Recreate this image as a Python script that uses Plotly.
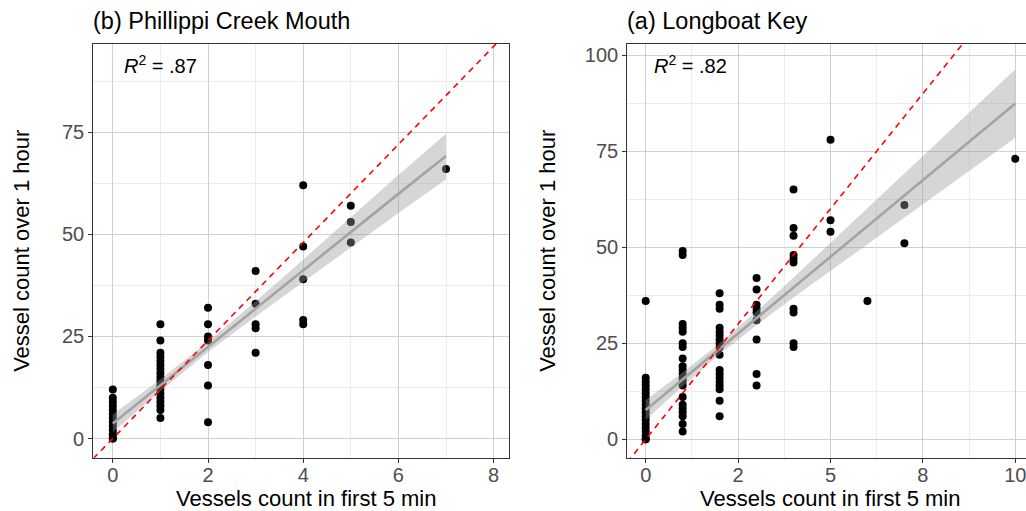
import numpy as np
import plotly.graph_objects as go

# ---- data ----
# (b) Phillippi Creek Mouth: hourly counts grouped by 5-min count
pc_x0 = [0, 0, 1, 1, 2, 3, 4, 5, 6, 7, 8, 9, 10, 12]
pc_x1 = [5, 7, 8, 9, 10, 11, 12, 13, 14, 15, 16, 17, 18, 19, 20, 21, 24, 28]
pc_x2 = [4, 13, 18, 24, 25, 28, 32]
pc_x3 = [21, 27, 28, 33, 41]
pc_x4 = [28, 29, 39, 47, 62]
pc_x5 = [48, 53, 57]
pc_x7 = [66]
pc_groups = {0: pc_x0, 1: pc_x1, 2: pc_x2, 3: pc_x3, 4: pc_x4, 5: pc_x5, 7: pc_x7}

# linear fit and 95% band
pc_fit_x = [0, 1, 2, 3, 4, 5, 6, 7]
pc_fit_y = [3.7, 13.1, 22.4, 31.8, 41.1, 50.5, 59.9, 69.2]
pc_fit_lo = [1.6, 11.6, 21.2, 29.9, 38.4, 46.8, 55.2, 63.4]
pc_fit_hi = [5.9, 14.5, 23.7, 33.6, 43.8, 54.2, 64.5, 74.6]

# (a) Longboat Key
lk_x0 = [0, 0, 1, 2, 3, 4, 5, 6, 7, 8, 9, 10, 11, 12, 13, 14, 15, 16, 36]
lk_x1 = [2, 4, 6, 7, 8, 9, 11, 14, 15, 16, 17, 18, 19, 21, 24, 25, 28, 29, 30, 48, 49]
lk_x2 = [6, 10, 13, 14, 15, 16, 17, 18, 22, 24, 25, 26, 27, 28, 29, 34, 35, 38]
lk_x3 = [14, 17, 26, 31, 33, 34, 35, 39, 42]
lk_x4 = [24, 25, 33, 34, 46, 47, 48, 53, 55, 65]
lk_x5 = [54, 57, 78]
lk_x6 = [36]
lk_x7 = [51, 61]
lk_x10 = [73]
lk_groups = {0: lk_x0, 1: lk_x1, 2: lk_x2, 3: lk_x3, 4: lk_x4, 5: lk_x5,
             6: lk_x6, 7: lk_x7, 10: lk_x10}

lk_fit_x = [0, 1, 2, 3, 4, 5, 6, 7, 8, 9, 10]
lk_fit_y = [7.6, 15.6, 23.6, 31.5, 39.5, 47.5, 55.5, 63.5, 71.4, 79.4, 87.4]
lk_fit_lo = [5.0, 13.8, 22.2, 29.7, 36.9, 43.9, 50.9, 57.8, 64.7, 71.6, 78.5]
lk_fit_hi = [10.2, 17.4, 25.0, 33.3, 42.1, 51.1, 60.1, 69.2, 78.1, 87.2, 96.3]

titles = ["(b) Phillippi Creek Mouth", "(a) Longboat Key"]
r2_labels = [".87", ".82"]
ref_slope = 12  # 1 vessel per 5 min == 12 per hour
x_title = "Vessels count in first 5 min"
y_title = "Vessel count over 1 hour"

pc_xticks = [0, 2, 4, 6, 8]
pc_xtext = ["0", "2", "4", "6", "8"]
lk_xticks = [0, 2.5, 5, 7.5, 10]
lk_xtext = ["0", "2", "5", "8", "10"]
pc_yticks = [0, 25, 50, 75]
lk_yticks = [0, 25, 50, 75, 100]


def flatten(groups):
    xs, ys = [], []
    for k, v in groups.items():
        xs += [k] * len(v)
        ys += v
    return xs, ys


W, H = 1026, 511
FONT = "Liberation Sans"
fig = go.Figure()

panels = [
    dict(groups=pc_groups, fit=(pc_fit_x, pc_fit_y, pc_fit_lo, pc_fit_hi),
         xa="x", ya="y", xdom=[93.3 / W, 509.3 / W],
         xr=[-0.41, 8.33], yr=[-4.7, 96.6], xt=pc_xticks, xtt=pc_xtext,
         yt=pc_yticks, r2pos=(0.2, 91.5), xc=306, yx=22),
    dict(groups=lk_groups, fit=(lk_fit_x, lk_fit_y, lk_fit_lo, lk_fit_hi),
         xa="x2", ya="y2", xdom=[627.3 / W, 1.0],
         xr=[-0.498, 10.29], yr=[-4.8, 102.9], xt=lk_xticks, xtt=lk_xtext,
         yt=lk_yticks, r2pos=(0.17, 97.5), xc=830, yx=548),
]

ydom = [(H - 457.7) / H, (H - 44) / H]

for i, p in enumerate(panels):
    x, y = flatten(p["groups"])
    fig.add_trace(go.Scatter(x=x, y=y, mode="markers", xaxis=p["xa"], yaxis=p["ya"],
                             marker=dict(color="black", size=8), showlegend=False,
                             hoverinfo="skip"))
    fx, fy, flo, fhi = p["fit"]
    fig.add_trace(go.Scatter(x=list(fx) + list(fx[::-1]),
                             y=list(fhi) + list(flo[::-1]),
                             fill="toself", fillcolor="rgba(153,153,153,0.4)",
                             line=dict(width=0), mode="lines", xaxis=p["xa"],
                             yaxis=p["ya"], showlegend=False, hoverinfo="skip"))
    fig.add_trace(go.Scatter(x=fx, y=fy, mode="lines", xaxis=p["xa"], yaxis=p["ya"],
                             line=dict(color="#a3a3a3", width=2.6), showlegend=False,
                             hoverinfo="skip"))
    rx = list(p["xr"])
    fig.add_trace(go.Scatter(x=rx, y=[ref_slope * v for v in rx], mode="lines",
                             xaxis=p["xa"], yaxis=p["ya"],
                             line=dict(color="red", width=1.6, dash="6px,5px"),
                             showlegend=False, hoverinfo="skip"))

    suffix = "" if i == 0 else "2"
    minor_x = [(a + b) / 2 for a, b in zip(p["xt"][:-1], p["xt"][1:])]
    minor_y = [(a + b) / 2 for a, b in zip(p["yt"][:-1], p["yt"][1:])] + [p["yt"][-1] + 12.5]
    axis_common = dict(showline=True, mirror=True, linecolor="#333333", linewidth=1.2,
                       ticks="outside", ticklen=4, tickcolor="#333333", tickwidth=1,
                       showgrid=True, gridcolor="#d0d0d0", gridwidth=1.1,
                       zeroline=False, ticklabeloverflow="allow",
                       tickfont=dict(family=FONT, size=20, color="#4d4d4d"))
    fig.update_layout(**{
        "xaxis" + suffix: dict(domain=p["xdom"], range=p["xr"], tickvals=p["xt"],
                               ticktext=p["xtt"], anchor="y" + suffix,
                               ticklabelstandoff=-5,
                               minor=dict(tickvals=minor_x, showgrid=True,
                                          gridcolor="#ececec", gridwidth=0.6, ticks=""),
                               **axis_common),
        "yaxis" + suffix: dict(domain=ydom, range=p["yr"], tickvals=p["yt"],
                               ticktext=[str(v) for v in p["yt"]], anchor="x" + suffix,
                               minor=dict(tickvals=minor_y, showgrid=True,
                                          gridcolor="#ececec", gridwidth=0.6, ticks=""),
                               **axis_common),
    })
    fig.add_annotation(x=p["r2pos"][0], y=p["r2pos"][1], xref=p["xa"], yref=p["ya"],
                       text="<i>R</i><sup>2</sup> = " + r2_labels[i], showarrow=False,
                       xanchor="left", yanchor="middle",
                       font=dict(family=FONT, size=20, color="black"))
    fig.add_annotation(x=p["xdom"][0] - 2 / W, y=(H - 21) / H, xref="paper", yref="paper",
                       text=titles[i], showarrow=False, xanchor="left", yanchor="middle",
                       font=dict(family=FONT, size=23.5, color="black"))
    fig.add_annotation(x=p["xc"] / W, y=(H - 498) / H, xref="paper", yref="paper",
                       text=x_title, showarrow=False, xanchor="center", yanchor="middle",
                       font=dict(family=FONT, size=22, color="black"))
    fig.add_annotation(x=p["yx"] / W, y=(ydom[0] + ydom[1]) / 2, xref="paper", yref="paper",
                       text=y_title, showarrow=False, textangle=-90,
                       xanchor="center", yanchor="middle",
                       font=dict(family=FONT, size=22, color="black"))

fig.update_layout(width=W, height=H, margin=dict(l=0, r=0, t=0, b=0),
                  paper_bgcolor="white", plot_bgcolor="white", showlegend=False)

fig.write_html("out.html", config={"displayModeBar": False},
               post_script="document.body.style.margin='0';document.body.style.overflow='hidden';")
